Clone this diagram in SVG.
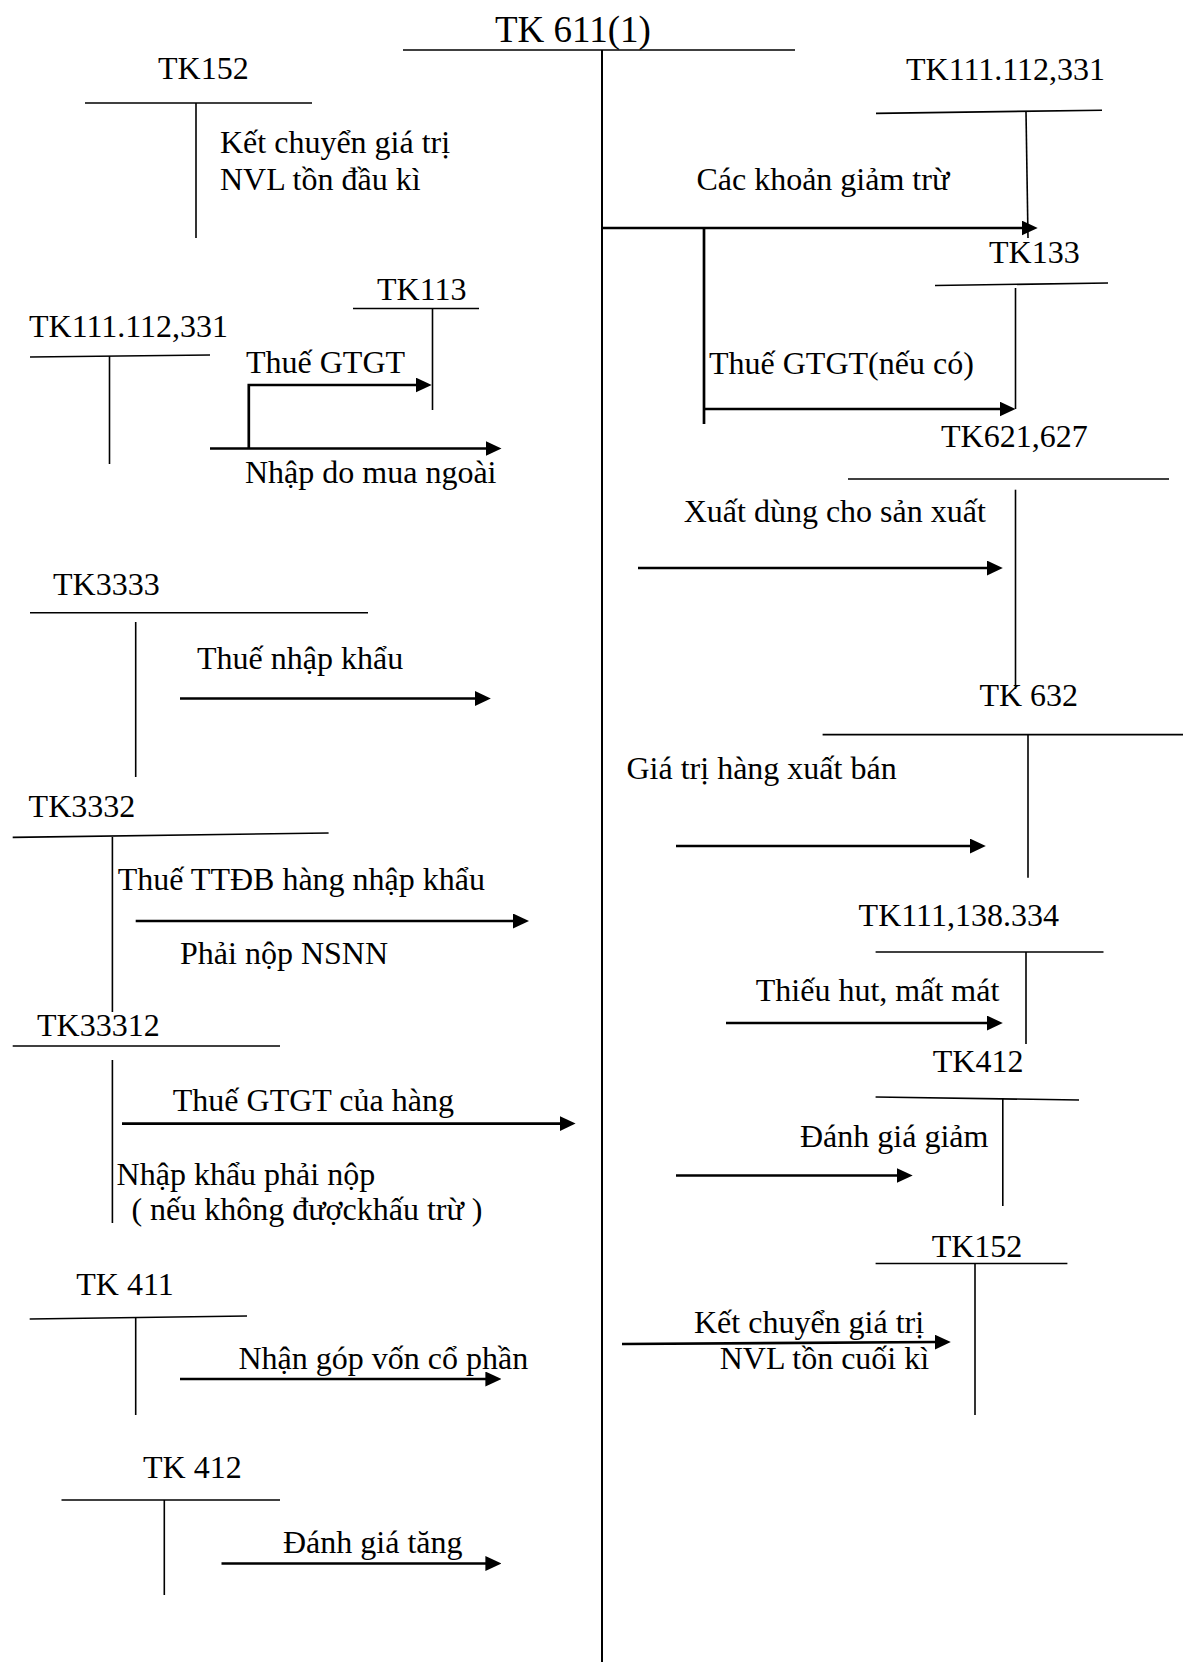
<svg xmlns="http://www.w3.org/2000/svg" width="1183" height="1662" viewBox="0 0 1183 1662">
  <defs>
    <style>
      .t { stroke: #000; stroke-width: 1.6; fill: none; }
      .main { stroke: #000; stroke-width: 2; fill: none; }
      .arr { stroke: #000; stroke-width: 2.7; fill: none; marker-end: url(#head); }
      .seg { stroke: #000; stroke-width: 2.7; fill: none; }
      text { font-family: "Liberation Serif", "Times New Roman", serif; font-size: 32px; fill: #000; }
      .title { font-size: 37px; }
    </style>
    <marker id="head" markerUnits="userSpaceOnUse" viewBox="0 0 16 15" markerWidth="16" markerHeight="15" refX="3" refY="7.5" orient="auto">
      <path d="M0,0 L16,7.5 L0,15 z" fill="#000"/>
    </marker>
  </defs>
  <rect width="1183" height="1662" fill="#fff"/>

  <!-- central account -->
  <g id="tk611">
    <text class="title" x="495" y="42">TK 611(1)</text>
    <line class="t" x1="403" y1="50" x2="795" y2="50"/>
    <line class="main" x1="602" y1="50" x2="602" y2="1662"/>
  </g>

  <!-- debit side accounts (left) -->
  <g id="tk152-open">
    <text x="158" y="79">TK152</text>
    <line class="t" x1="85" y1="103" x2="312" y2="103"/>
    <line class="t" x1="196" y1="103" x2="196" y2="238"/>
  </g>
  <g id="tk113">
    <text x="377" y="300">TK113</text>
    <line class="t" x1="353" y1="308.5" x2="479" y2="308.5"/>
    <line class="t" x1="432.5" y1="308.5" x2="432.5" y2="410"/>
  </g>
  <g id="tk111-left">
    <text x="29" y="337">TK111.112,331</text>
    <line class="t" x1="30" y1="357" x2="210" y2="355"/>
    <line class="t" x1="109.5" y1="356" x2="109.5" y2="464"/>
  </g>
  <g id="tk3333">
    <text x="53" y="595">TK3333</text>
    <line class="t" x1="30" y1="612.7" x2="368" y2="612.7"/>
    <line class="t" x1="135.7" y1="622" x2="135.7" y2="777"/>
  </g>
  <g id="tk3332">
    <text x="28.6" y="816.5">TK3332</text>
    <line class="t" x1="12.7" y1="837.4" x2="328.6" y2="833"/>
    <line class="t" x1="112.4" y1="837" x2="112.4" y2="1012"/>
  </g>
  <g id="tk33312">
    <text x="37" y="1036">TK33312</text>
    <line class="t" x1="12.7" y1="1046" x2="280" y2="1046"/>
    <line class="t" x1="112.4" y1="1060" x2="112.4" y2="1223"/>
  </g>
  <g id="tk411">
    <text x="76.3" y="1295">TK 411</text>
    <line class="t" x1="29.7" y1="1319" x2="247" y2="1316"/>
    <line class="t" x1="135.7" y1="1317.6" x2="135.7" y2="1415"/>
  </g>
  <g id="tk412-left">
    <text x="143" y="1478">TK 412</text>
    <line class="t" x1="61.5" y1="1500" x2="280" y2="1500"/>
    <line class="t" x1="164.3" y1="1500" x2="164.3" y2="1595"/>
  </g>

  <!-- credit side accounts (right) -->
  <g id="tk111-right">
    <text x="906" y="80">TK111.112,331</text>
    <line class="t" x1="876" y1="113.4" x2="1102" y2="110.2"/>
    <line class="t" x1="1026" y1="112" x2="1028" y2="238"/>
  </g>
  <g id="tk133">
    <text x="989" y="263">TK133</text>
    <line class="t" x1="935" y1="285.5" x2="1108" y2="283"/>
    <line class="t" x1="1015.5" y1="288" x2="1015.5" y2="409"/>
  </g>
  <g id="tk621">
    <text x="941" y="447">TK621,627</text>
    <line class="t" x1="848" y1="479" x2="1169" y2="479"/>
    <line class="t" x1="1015.5" y1="489.7" x2="1015.5" y2="689"/>
  </g>
  <g id="tk632">
    <text x="979.4" y="706">TK 632</text>
    <line class="t" x1="822.6" y1="734.6" x2="1183" y2="734.6"/>
    <line class="t" x1="1028" y1="734.6" x2="1028" y2="877.7"/>
  </g>
  <g id="tk111-138">
    <text x="858.6" y="926">TK111,138.334</text>
    <line class="t" x1="875.6" y1="952" x2="1103.5" y2="952"/>
    <line class="t" x1="1026" y1="952" x2="1026" y2="1044"/>
  </g>
  <g id="tk412-right">
    <text x="932.8" y="1072">TK412</text>
    <line class="t" x1="875.6" y1="1097" x2="1079" y2="1100"/>
    <line class="t" x1="1002.8" y1="1098" x2="1002.8" y2="1206"/>
  </g>
  <g id="tk152-close">
    <text x="931.7" y="1257">TK152</text>
    <line class="t" x1="875.6" y1="1263.5" x2="1067.4" y2="1263.5"/>
    <line class="t" x1="975" y1="1263.5" x2="975" y2="1415"/>
  </g>

  <!-- entries -->
  <g id="connectors">
    <path class="arr" d="M248.8,448.3 V385 H418.7"/>
    <line class="arr" x1="210" y1="448.5" x2="488.5" y2="448.5"/>
    <line class="arr" x1="180" y1="698.5" x2="477.8" y2="698.5"/>
    <line class="arr" x1="135.7" y1="921" x2="516" y2="921"/>
    <line class="arr" x1="122" y1="1123.6" x2="562.6" y2="1123.6"/>
    <line class="arr" x1="180" y1="1379" x2="488.4" y2="1379"/>
    <line class="arr" x1="221.5" y1="1563.5" x2="488.4" y2="1563.5"/>

    <line class="arr" x1="602" y1="228" x2="1024.7" y2="228"/>
    <line class="seg" x1="704" y1="228" x2="704" y2="424"/>
    <line class="arr" x1="704" y1="409" x2="1002.5" y2="409"/>
    <line class="arr" x1="638" y1="568" x2="989.8" y2="568"/>
    <line class="arr" x1="676" y1="846" x2="972.8" y2="846"/>
    <line class="arr" x1="726" y1="1023" x2="989.8" y2="1023"/>
    <line class="arr" x1="676" y1="1175.5" x2="899.7" y2="1175.5"/>
    <line class="arr" x1="622" y1="1344" x2="937.8" y2="1342"/>
  </g>

  <g id="labels">
    <text x="220" y="153">Kết chuyển giá trị</text>
    <text x="220" y="190">NVL tồn đầu kì</text>
    <text x="246" y="373">Thuế GTGT</text>
    <text x="245" y="483">Nhập do mua ngoài</text>
    <text x="197" y="669">Thuế nhập khẩu</text>
    <text x="117.7" y="890">Thuế TTĐB hàng nhập khẩu</text>
    <text x="180" y="964">Phải nộp NSNN</text>
    <text x="172.8" y="1111">Thuế GTGT của hàng</text>
    <text x="116.6" y="1185">Nhập khẩu phải nộp</text>
    <text x="131.4" y="1220">( nếu không đượckhấu trừ )</text>
    <text x="238.5" y="1369">Nhận góp vốn cổ phần</text>
    <text x="283" y="1553">Đánh giá tăng</text>

    <text x="696.4" y="190">Các khoản giảm trừ</text>
    <text x="709" y="374">Thuế GTGT(nếu có)</text>
    <text x="683.7" y="522">Xuất dùng cho sản xuất</text>
    <text x="626.5" y="779">Giá trị hàng xuất bán</text>
    <text x="755.8" y="1001">Thiếu hut, mất mát</text>
    <text x="800" y="1147">Đánh giá giảm</text>
    <text x="694" y="1333">Kết chuyển giá trị</text>
    <text x="719.7" y="1369">NVL tồn cuối kì</text>
  </g>
</svg>
